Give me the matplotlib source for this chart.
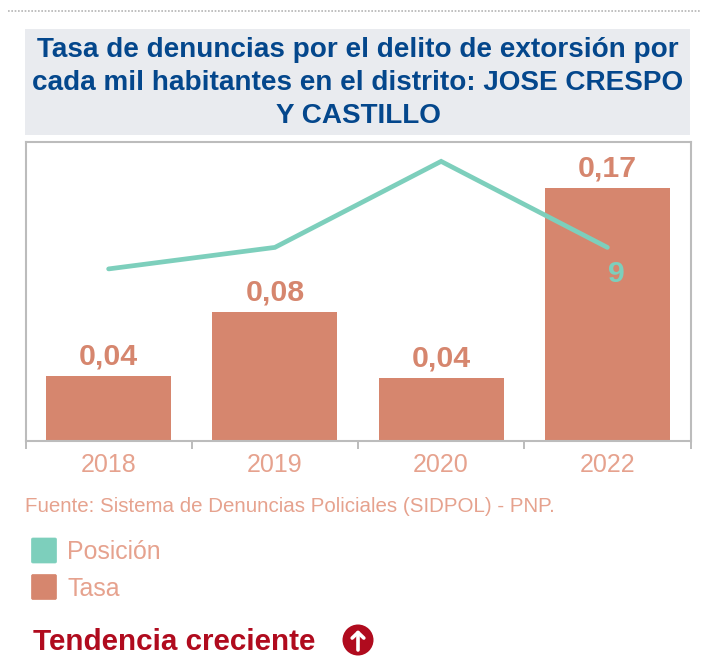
import matplotlib
matplotlib.use('Agg')
import matplotlib.pyplot as plt
from matplotlib.patches import Rectangle, Circle, FancyBboxPatch

years = ['2018', '2019', '2020', '2022']
tasa = [0.0435, 0.0863, 0.0421, 0.1692]
tasa_labels = ['0,04', '0,08', '0,04', '0,17']
posicion = [10, 9, 5, 9]
posicion_labels = ['', '', '', '9']

title = 'Tasa de denuncias por el delito de extorsión por\ncada mil habitantes en el distrito: JOSE CRESPO\nY CASTILLO'
fuente = 'Fuente: Sistema de Denuncias Policiales (SIDPOL) - PNP.'
legend_names = ['Posición', 'Tasa']
tendencia = 'Tendencia creciente'

BAR = '#d6866e'
LINE = '#7dcfbc'
TEXT = '#e6a28e'
GRID = '#bcbcbc'
BLUE = '#04478c'
RED = '#b00b1e'
W, H = 701, 670

plt.rcParams['font.family'] = ['Liberation Sans', 'DejaVu Sans']

fig = plt.figure(figsize=(W / 100, H / 100), dpi=100)

# overlay in pixel coordinates for the page furniture
bg = fig.add_axes([0, 0, 1, 1])
bg.set_xlim(0, W)
bg.set_ylim(H, 0)
bg.axis('off')

bg.plot([8, 700], [11, 11], color='#b5b5b5', lw=1.2, ls=(0, (1, 1)))
bg.add_patch(Rectangle((25, 29), 665, 106, color='#e9ebef', lw=0))
bg.text(358, 83, title, color=BLUE, fontsize=20.1, fontweight='bold',
        ha='center', va='center', linespacing=1.33)
bg.text(25, 506.5, fuente, color=TEXT, fontsize=14.8, ha='left', va='center')

for name, color, y in zip(legend_names, [LINE, BAR], [550.5, 587]):
    bg.add_patch(FancyBboxPatch((31.5, y - 12.5), 25, 25, boxstyle='round,pad=0,rounding_size=1.5',
                                facecolor=color, edgecolor=color, lw=0.5))
    bg.text(67, y + 1.5, name, color=TEXT, fontsize=17.9, ha='left', va='center')

bg.text(33, 642.5, tendencia, color=RED, fontsize=21.3, fontweight='bold', ha='left', va='center')
bg.add_patch(Circle((358, 640), 15.5, color=RED, lw=0))
bg.annotate('', xy=(358, 630), xytext=(358, 650),
            arrowprops=dict(arrowstyle='->,head_width=0.42,head_length=0.4', color='white', lw=2.6,
                            shrinkA=0, shrinkB=0))

# plot area: x 25.5-690.5, y 142-441 in pixels
ax = fig.add_axes([25.5 / W, 1 - 441 / H, 665 / W, 299 / H])
ax.patch.set_alpha(0)
x = range(len(years))
ax.bar(x, tasa, width=0.753, color=BAR)
ax.set_xlim(-0.5, 3.5)
ax.set_ylim(0, 0.2)
ax.set_yticks([])
ax.set_xticks([-0.5, 0.5, 1.5, 2.5, 3.5])
ax.set_xticklabels([])
ax.tick_params(axis='x', length=5.5, width=1.4, color=GRID)
for s in ax.spines.values():
    s.set_color(GRID)
    s.set_linewidth(1.5)

for i, lab in enumerate(years):
    ax.annotate(lab, (i, 0), xytext=(0, -17), textcoords='offset points',
                color=TEXT, fontsize=18, ha='center', va='center')
for i, lab in enumerate(tasa_labels):
    ax.annotate(lab, (i, tasa[i]), xytext=(0, 14.3), textcoords='offset points',
                color=BAR, fontsize=21.8, fontweight='bold', ha='center', va='center')

ax2 = ax.twinx()
ax2.set_ylim(18.0, 4.1)
ax2.set_yticks([])
for s in ax2.spines.values():
    s.set_visible(False)
ax2.plot(x, posicion, color=LINE, lw=3.4, solid_capstyle='round', solid_joinstyle='miter')
for i, lab in enumerate(posicion_labels):
    ax2.annotate(lab, (i, posicion[i]), xytext=(6.5, -19), textcoords='offset points',
                 color=LINE, fontsize=21.8, fontweight='bold', ha='center', va='center')

fig.savefig('out.png', dpi=100)
